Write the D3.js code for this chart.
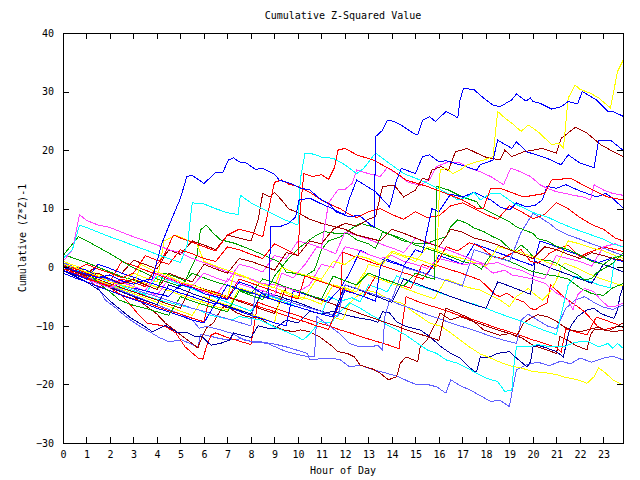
<!DOCTYPE html>
<html><head><meta charset="utf-8">
<script src="https://cdn.jsdelivr.net/npm/d3@7"></script>
<style>
body{margin:0;background:#fff}
svg text{font-family:"DejaVu Sans Mono",monospace;font-size:10px;fill:#000}
</style>
</head><body>
<svg id="chart" width="640" height="480"></svg>
<script>
const chartTitle = "Cumulative Z-Squared Value";
const xTitle = "Hour of Day";
const yTitle = "Cumulative (Z*Z)-1";
const xTickValues = d3.range(0, 24);
const yTickValues = [-30, -20, -10, 0, 10, 20, 30, 40];
const xDomain = [0, 23.8333];
const yDomain = [-30, 40];

// each series: [hour, cumulative value] pairs
const s01 = [[0,0],[0.5,-0.6],[1,-1.2],[1.5,-1.8],[2,-1.3],[2.5,-2.3],[3,-2.9],[3.5,-2.2],[3.8,-2],[4.2,4],[4.6,8],[5,11.8],[5.27,15.5],[5.5,15.7],[6,14.3],[6.5,16.2],[6.8,16.2],[7.04,18.3],[7.25,18.7],[7.5,18],[7.8,17.8],[8.2,16.7],[8.5,16.9],[9,15.9],[9.2,14.9],[9.7,14.3],[10.1,13.5],[10.5,13.2],[10.9,11.8],[11.4,10.6],[11.6,9.5],[11.8,9.2],[12.2,8.6],[12.6,8.9],[13.1,7.2],[13.25,6.9],[13.3,22.3],[13.6,23.4],[13.8,25.1],[14.1,24.9],[14.5,24],[14.9,22.9],[15.1,22.6],[15.3,25.1],[15.6,25.7],[15.85,24.9],[16.3,26.6],[16.6,26],[16.8,25.5],[16.9,28.6],[17.05,30.6],[17.5,30.3],[17.9,28.9],[18.3,27.7],[18.6,27.4],[19.1,28.6],[19.3,29.6],[19.7,28.4],[19.9,28.9],[20.0,28.3],[20.3,28],[20.8,27],[21.2,27.4],[21.5,28.3],[21.9,27.9],[22.1,30],[22.7,28.6],[23.2,26.6],[23.4,26.6],[23.83,25.8]];
const s02 = [[0,0.5],[0.5,0],[1,-0.8],[1.5,-1.5],[2,-2.5],[2.5,-3],[3,-3.5],[3.3,0.5],[3.8,-0.5],[4.5,-1.5],[5,-2.5],[5.5,-3],[6,-3.8],[6.5,-4.5],[7,-5],[7.3,-1],[7.8,-1.8],[8.5,-3],[9,-3.5],[9.3,0],[9.8,-0.8],[10.5,-1.5],[11,-2],[11.5,1],[12,0.5],[12.5,2],[13,1.5],[13.5,0.5],[14,2.8],[14.5,2],[15,1.5],[15.5,0.8],[15.9,0.2],[16.05,16.6],[16.3,16.9],[16.6,16],[16.9,16.6],[17.2,17.5],[17.6,18],[17.9,18.3],[18.3,18.9],[18.5,26.6],[18.8,25.5],[19.1,24.6],[19.5,23.2],[19.8,24.3],[20.2,23.2],[20.6,21.7],[20.8,20.9],[21.1,21.2],[21.3,20.4],[21.5,28.9],[21.8,31.1],[22,30.4],[22.45,29.7],[22.8,28.9],[23.3,27.2],[23.6,33.4],[23.83,35.3]];
const s03 = [[0,0.5],[0.5,0],[1,-0.5],[1.5,-1.5],[2,-2],[2.5,-3],[3,-3.5],[3.5,-4],[4,-4.5],[4.5,-5],[5,-3],[5.5,-3.5],[6,-4.5],[6.5,-5],[7,-5.5],[7.5,-2.5],[8,-3.2],[8.5,-4.5],[8.75,-5.2],[8.85,7],[9.2,6.9],[9.6,7.5],[9.9,8.6],[10.05,11.5],[10.5,11.8],[10.9,11],[11.3,10.3],[11.7,9.5],[12,9],[12.2,11.8],[12.5,14.9],[13.3,12.9],[13.9,10.3],[14.2,14.9],[14.4,16.9],[15,16],[15.3,18.9],[15.6,19.2],[16,18],[16.3,18.2],[16.9,17.5],[17.6,16.6],[17.76,17.5],[18.3,18.3],[18.5,21.7],[19.1,20.3],[19.3,21.4],[19.75,19.7],[20.6,18.6],[21.2,17.5],[21.5,19.2],[22,17.8],[22.6,17],[22.8,21.7],[23.3,21.7],[23.83,20]];
const s04 = [[0,0],[0.5,-0.8],[1,-1.5],[1.5,-1],[2,-2],[2.5,-2.8],[3,-2],[3.5,-3],[4,-3.8],[4.5,-1],[5,-1.8],[5.5,-2.5],[6,0.5],[6.5,-0.3],[7,-1],[7.5,1.5],[8,1],[8.5,0.3],[9,-0.5],[9.5,2.5],[10,2],[10.5,4.5],[11,4],[11.5,6.5],[12,7.5],[12.5,7],[13,8.2],[13.3,8.6],[13.6,13.8],[14.1,14],[14.5,12],[15,13.2],[15.3,15.2],[15.55,14.9],[15.7,16.6],[16.1,17.2],[16.4,16.5],[16.7,19.7],[17.2,20.3],[17.6,19.5],[18,18.8],[18.6,18.3],[18.8,20],[19.1,18.9],[19.6,19.7],[20.4,20.3],[21,19.5],[21.2,22],[21.8,23.9],[22.3,22.9],[22.9,20.9],[23.3,20],[23.83,18.9]];
const s05 = [[0,0],[0.5,-0.5],[1,0.5],[1.5,-0.3],[2,-1],[2.5,-1.8],[3,-1],[3.5,2],[4,1.2],[4.5,0.5],[5,3],[5.5,2.3],[6,1.5],[6.5,1],[7,3.5],[7.5,3],[8,2.2],[8.5,1.5],[9,4],[9.5,3],[10,2],[10.1,10],[10.25,16],[10.6,15.5],[11,15.8],[11.3,15],[11.55,17],[11.7,20],[12,20.3],[12.5,19.2],[13.2,18.3],[14,16.6],[14.6,14.9],[15.5,13.8],[16.3,12.6],[17,11.5],[17.6,10.1],[17.9,10.1],[18.2,13.5],[18.6,13.5],[18.8,13.2],[19.2,12.6],[19.6,12],[20.5,12.6],[20.8,14.9],[21.6,15.2],[22.4,13.5],[23,12.3],[23.2,12],[23.83,11.5]];
const s06 = [[0,1.5],[0.4,3],[0.7,7.2],[1,6.8],[1.5,6],[2,5.2],[2.5,4.5],[3,3.7],[3.5,3],[4,2.2],[4.5,1.5],[5,0.8],[5.3,4],[5.5,11],[6,10.8],[6.5,10],[7,9.3],[7.45,9],[7.55,12.3],[8,11],[8.5,10],[9,9],[9.5,8],[10,7.2],[10.1,15],[10.3,19.5],[10.7,19.3],[11,18.8],[11.5,18.6],[12,17.5],[12.5,16],[12.8,16.9],[13.3,19.5],[13.8,18],[14.5,16],[15.2,14.9],[15.8,13.8],[16.3,12.8],[16.8,11.5],[17.2,12],[17.5,12.8],[17.76,11.5],[18.2,12.6],[18.6,12.6],[19.2,10.9],[20.1,9.2],[20.6,8.6],[21.2,7.5],[21.8,6.5],[22.5,5.5],[23,4.8],[23.4,4],[23.83,3.5]];
const s07 = [[0,1],[0.4,3],[0.7,9],[1,8],[1.5,7.2],[2,6.8],[2.5,6],[3,5.2],[3.5,4.5],[4,3.8],[4.5,3],[5,2.5],[5.5,1.5],[6,0.8],[6.5,0],[7,-0.8],[7.5,-1.5],[8,-2],[8.5,-2.8],[9,-3],[9.5,-3.5],[10,-4.2],[10.5,-3],[11,0.5],[11.5,0],[12,3.5],[12.5,3],[13,2.2],[13.5,1.5],[14,2],[14.5,1],[15,0.5],[15.5,-0.2],[16,1.5],[16.5,1],[17,0.5],[17.76,0.7],[18.3,-1],[18.8,-0.5],[19.1,-1.3],[19.5,-1.6],[19.9,-1.9],[20.5,-2.7],[21,-4.4],[21.5,-5.6],[21.7,-7.3],[21.9,-4.7],[22.2,-3.6],[22.6,-4.2],[22.9,-5.6],[23.2,-6.7],[23.5,-6.7],[23.83,-6.1]];
const s08 = [[0,0],[0.5,-0.8],[1,-1.5],[1.5,-1],[2,-2],[2.5,-2.6],[3,-3.3],[3.5,-4],[4,-1],[4.5,-1.8],[5,-2.5],[5.5,-3.2],[6,-1],[6.5,-1.8],[7,-2.5],[7.5,0.5],[8,0],[8.5,-0.8],[9,2],[9.5,1.5],[10,4.5],[10.5,4],[11,3.3],[11.3,11],[11.7,13.2],[12,13.3],[12.3,14.3],[12.5,16.6],[13,16],[13.5,15.5],[13.8,17],[14.2,16],[14.7,14.5],[15.2,14],[15.6,15],[15.9,17.2],[16.4,18],[16.9,17.8],[17.3,16.9],[17.76,16.3],[18.2,15.5],[18.75,14.1],[19.05,16.9],[19.3,16.6],[19.9,15.5],[20.3,14.1],[20.6,13.5],[21,12.9],[21.4,12.6],[21.7,12.3],[22.15,12],[22.45,11.5],[22.6,14.1],[23,13.2],[23.4,12.6],[23.83,12.3]];
const s09 = [[0,0.5],[0.5,-0.5],[1,-1.8],[1.5,-3.5],[1.8,-5.6],[2.2,-6.8],[2.7,-8.5],[3.2,-9.9],[3.6,-10.8],[4.1,-12],[4.5,-12.7],[5.05,-12.4],[5.4,-13],[5.75,-13.6],[5.85,-11.4],[6.3,-11.8],[6.7,-12.2],[7.1,-12.4],[7.6,-12.2],[8.1,-12.8],[8.4,-12.7],[9,-13.1],[9.5,-13.6],[10,-14.2],[10.4,-14.7],[10.5,-15.8],[11,-15.6],[11.4,-15.5],[11.8,-15.8],[12.2,-17],[12.65,-16.7],[13.2,-17.5],[13.7,-18],[14.3,-18.7],[14.7,-19.5],[15.1,-20.1],[15.5,-20],[15.9,-20.4],[16.3,-21.5],[16.5,-19.2],[16.9,-20.2],[17.3,-20.9],[17.8,-22],[18.2,-22.9],[18.6,-22.7],[19,-23.8],[19.15,-20.4],[19.3,-17.5],[19.7,-16.7],[20.2,-16.2],[20.7,-16.8],[21.2,-16],[21.6,-16.5],[22,-15.5],[22.5,-16.2],[23,-15.5],[23.4,-15.2],[23.83,-15.8]];
const s10 = [[0,-0.2],[0.5,-1],[1,-1.8],[1.5,-2.6],[2,-3.4],[2.5,-4.2],[3,-5],[3.5,-6.5],[4,-8],[4.35,-9.5],[4.9,-11.2],[5.3,-12.4],[5.75,-13.8],[5.8,-13],[6.1,-10.4],[6.4,-9.5],[6.7,-7.3],[6.85,-6.7],[7.1,-7],[7.4,-7.8],[7.8,-8.4],[8.4,-8.7],[8.7,-9.6],[9,-10.1],[9.4,-10.7],[9.8,-11],[10.1,-10.7],[10.5,-11],[10.9,-11.8],[11.4,-13.3],[11.7,-14.4],[12.1,-14.7],[12.4,-15.3],[12.65,-16.7],[13.2,-17.4],[13.5,-18.1],[13.85,-19.2],[14.2,-18.7],[14.35,-16.4],[14.6,-15.3],[15.1,-16.1],[15.2,-13.6],[15.5,-12.4],[15.7,-10.7],[15.9,-9.3],[16.05,-7.8],[16.5,-9],[16.9,-8.4],[17.5,-9.3],[17.9,-10.7],[18.3,-11.2],[18.6,-11.6],[19,-11.3],[19.5,-12],[20,-13.3],[20.5,-14],[21,-14.7],[21.15,-11.8],[21.5,-12.5],[21.8,-13.3],[22.3,-14.1],[22.45,-11.5],[22.6,-10.7],[23,-10.7],[23.5,-11],[23.83,-10.7]];
const s11 = [[0,-0.3],[0.5,-1],[1,-1.8],[1.5,-2.6],[2,-3.5],[2.5,-4.8],[2.8,-6.1],[3.2,-8],[3.6,-9.6],[4,-9.8],[4.35,-10.1],[4.8,-11.2],[5.2,-13.6],[5.75,-15.5],[5.95,-15.7],[6.1,-13.6],[6.3,-11.6],[6.5,-11.2],[7,-12],[7.5,-12.6],[8,-13.2],[8.3,-6],[8.8,-6.7],[9.3,-7.4],[9.8,-8],[10.3,-8.7],[10.8,-9.4],[11.3,-10],[11.8,-10.7],[12.3,-11.3],[12.8,-12],[13.3,-12.6],[13.8,-13.2],[14.3,-13.9],[14.6,-5],[15,-5.7],[15.5,-6.4],[16,-7],[16.5,-7.7],[17,-8.4],[17.5,-9],[18,-9.7],[18.5,-10.4],[19,-11],[19.5,-11.7],[20,-12.4],[20.5,-13],[21,-13.7],[21.2,-14.5],[21.4,-10.5],[21.8,-11],[22.3,-11.5],[22.7,-8.5],[23.2,-9.2],[23.6,-9.8],[23.83,-10.3]];
const s12 = [[0,-0.5],[0.5,-1.5],[1,-2.5],[1.5,-3.8],[2.1,-6.1],[2.5,-7.4],[2.9,-8.7],[3.4,-9.9],[3.8,-11],[4.35,-9.9],[4.9,-11.2],[5.3,-11.2],[5.6,-11.8],[5.9,-11.8],[6.3,-13.3],[6.7,-13],[7.1,-12.4],[7.25,-11.2],[7.6,-11.6],[8,-12],[8.3,-10],[8.7,-10.4],[9,-10.5],[9.5,-9],[10,-9.5],[10.5,-7.5],[11,-8],[11.5,-7.5],[11.8,-7.9],[12.3,-8.4],[12.65,-8.7],[13.1,-9],[13.4,-9.4],[13.6,-7.6],[13.9,-7.8],[14.2,-9.3],[14.6,-10.1],[15.2,-10.7],[15.6,-11.8],[16.1,-13.6],[16.5,-14.7],[16.9,-15.5],[17.2,-16.7],[17.5,-17.8],[17.6,-17.8],[17.76,-15.3],[18.05,-15.5],[18.5,-14.7],[19,-14.4],[19.3,-15.5],[19.75,-17],[19.9,-16.1],[20.0,-13.6],[20.2,-13.3],[20.6,-13.8],[21,-14.4],[21.3,-15.3],[21.45,-12.4],[21.6,-10.1],[21.9,-8.4],[22.3,-7.3],[22.6,-7],[22.9,-7.9],[23.2,-8.4],[23.45,-8.7],[23.6,-7.3],[23.7,-5],[23.83,-3.3]];
const s13 = [[0,0],[0.5,-0.8],[1,-1.6],[1.5,-2.3],[2,-3],[2.5,-3.6],[3,-2],[3.5,-2.7],[4,-3.4],[4.5,-4],[5,-4.7],[5.5,-5.4],[6,-6],[6.5,-6.7],[7,-7.3],[7.5,-3.5],[8,-4.2],[8.5,-4.8],[9,-5.5],[9.5,-6.2],[10,-6.8],[10.5,-7.4],[11,-8],[11.5,-8.5],[11.9,-9],[12.2,-6.1],[12.5,-5],[12.9,-3.9],[13.4,-4.4],[13.9,-5.6],[14.4,-6.1],[14.8,-7.3],[15.2,-8.4],[15.6,-9.5],[16.1,-10.1],[16.5,-11.2],[16.9,-12.4],[17.3,-13.6],[17.76,-14.8],[18.2,-15.5],[18.6,-16.2],[19,-16.8],[19.5,-17.2],[20,-17.8],[20.5,-18],[21,-18.3],[21.3,-18.7],[21.9,-19.2],[22.3,-19.8],[22.6,-18.7],[22.8,-17.2],[23.1,-18.1],[23.4,-19.2],[23.83,-20.1]];
const s14 = [[0,0],[0.5,-0.7],[1,-1.5],[1.5,-2.2],[2,-3],[2.5,-3.6],[3,-4.2],[3.5,-4.8],[4,-5.5],[4.5,-6],[5,-6.5],[5.5,-7],[5.8,-7.3],[6.2,-8.1],[7.2,-9],[7.5,-8.4],[8.4,-9],[9.1,-10.4],[9.5,-11],[9.95,-11.8],[10.2,-12.4],[10.4,-11.8],[10.65,-10.7],[10.9,-9.3],[11.4,-9.5],[11.8,-7.6],[12.2,-6.1],[12.65,-7],[13.1,-8.1],[13.5,-9],[13.8,-9.9],[14.2,-10.7],[14.6,-11.6],[15.1,-13],[15.5,-14.1],[15.9,-14.7],[16.3,-15.8],[16.8,-16.4],[17.2,-17.2],[17.6,-18.1],[18.05,-19],[18.5,-19.5],[18.8,-21.2],[19.1,-21],[19.2,-16.4],[19.3,-13.6],[19.8,-13.6],[20.2,-13.2],[20.8,-13.6],[21.3,-13.6],[21.8,-12.8],[22.3,-12.6],[22.8,-13.6],[23.2,-13],[23.4,-13.8],[23.6,-13],[23.83,-13.8]];
const s15 = [[0,2],[0.65,5.2],[1.2,4.1],[2.1,2.1],[2.9,0.1],[3.5,-1],[4,-2],[4.5,-2.6],[5,-3.3],[5.5,-1],[6,-1.8],[6.5,-2.5],[7,-3.1],[7.5,-3.8],[8,-4.5],[8.5,-2],[9,-2.6],[9.5,-3.4],[10,-4],[10.5,-4.8],[11,-5.4],[11.5,-1.5],[12,-2.3],[12.5,-3],[13,-1],[13.5,-1.8],[14,-2.5],[14.5,-3.2],[15,-1],[15.5,-1.7],[15.8,-2],[15.9,13.8],[16.4,13.2],[17,12],[17.6,11.2],[17.76,10.3],[18.3,9.2],[18.6,8.6],[19,7.8],[19.3,6.9],[19.6,6.4],[20,5.8],[20.2,4.9],[20.6,4.5],[21,3.6],[21.5,3],[22,2.1],[22.5,1],[23,0.5],[23.4,1.6],[23.83,2]];
const s16 = [[0,2.2],[0.5,1.5],[1,0.8],[1.5,0],[2,-0.8],[2.5,-1.6],[3,-2.2],[3.5,-3],[4,-3.8],[4.3,-1],[4.7,-1.5],[5.2,-2.3],[5.7,2],[5.85,6.4],[6.1,7.2],[6.4,5.8],[6.7,4.7],[7.3,4.1],[8,3],[8.7,1.8],[9.2,0.9],[9.5,-0.8],[9.8,-1],[10.3,-1.5],[10.7,-0.5],[11,3],[11.3,4.5],[11.8,5.2],[12.2,6.4],[12.65,7.5],[13.2,6.9],[13.8,5.8],[14.35,4.7],[14.6,4.4],[15,4.1],[15.5,4.1],[15.9,4.7],[16.3,5.2],[16.5,6.9],[16.8,8.1],[17.2,7.5],[17.5,6.7],[17.9,6.1],[18.3,5.2],[18.6,4.7],[19,3.2],[19.2,2.7],[19.5,3.8],[19.75,3],[20,1.8],[20.4,1.2],[20.7,1.2],[21,0.7],[21.5,-0.5],[21.9,-1.3],[22.2,-2.2],[22.5,-1.9],[22.7,-1],[23.15,0.1],[23.4,0.7],[23.83,2.4]];
const s17 = [[0,1],[0.5,0.3],[1,-0.5],[1.5,-2.7],[2,-4.2],[2.4,-5.6],[2.6,-5.9],[3,-6.5],[3.5,-7],[4,-7.6],[4.5,-8.2],[5,-5],[5.5,-5.8],[6,-6.4],[6.5,-7],[7,-7.6],[7.5,-4],[8,-4.8],[8.5,-5.5],[9,-1.5],[9.2,-0.5],[9.6,1.5],[10.1,3.5],[10.5,4.7],[10.8,5.5],[11.1,6.1],[11.6,5.8],[12.1,5.8],[12.5,4.7],[13,4],[13.3,3.2],[13.6,6],[14,5.5],[14.5,4.8],[15,3.8],[15.5,3.2],[16,2.5],[16.5,1.8],[17,1],[17.5,0.5],[17.8,-0.3],[18.2,2],[18.7,1.5],[19.3,0.5],[19.8,-0.5],[20.5,-1.2],[21,-1.5],[21.5,-2],[22,-3.5],[22.5,-4.5],[23,-4.8],[23.4,-3.5],[23.83,-2.8]];
const s18 = [[0,-0.5],[0.5,-1.2],[1,-2],[1.5,-2.5],[2,-3.2],[2.5,-2],[3,-2.6],[3.5,-3.3],[4,0.5],[4.3,2],[4.7,5.5],[5,5],[5.5,4.3],[6,3.5],[6.5,2.8],[7,5.5],[7.5,6.5],[8,6],[8.5,5.2],[9,14.5],[9.3,14.9],[9.6,14.2],[10,13.8],[10.5,12.8],[11,11.5],[11.5,10.5],[11.8,10],[12.2,9],[12.5,8.5],[13,9.5],[13.5,10],[14,9],[14.5,8.2],[15,9.5],[15.5,8.5],[16,8.8],[16.5,10.5],[17,11],[17.5,10],[18,9],[18.5,8.2],[19,10.5],[19.5,9.5],[20,8.3],[20.5,9],[21,11],[21.5,10],[22,8.5],[22.5,7.3],[23,6.5],[23.5,5],[23.83,4.5]];
const s19 = [[0,0.3],[0.5,-0.5],[1,-1.2],[1.5,0.5],[2,-0.2],[2.5,-1],[3,1.2],[3.5,0.5],[4,-0.3],[4.5,3],[5,2.2],[5.5,4.5],[6,3.8],[6.5,3],[7,5.5],[7.5,5],[8,4.5],[8.3,8],[8.5,12.6],[8.8,12],[9,12.8],[9.3,11.5],[9.6,10],[10,9.3],[10.5,8.2],[11,7.5],[11.5,7],[12,6.5],[12.5,5.5],[13,5],[13.5,4.5],[14,6.5],[14.5,5.8],[15,5],[15.5,4.2],[16,3.5],[16.5,6.5],[17,6],[17.5,5],[18,4.5],[18.5,3.8],[19,3],[19.5,2.2],[20,1.5],[20.5,3.5],[21,3],[21.5,2.2],[22,1.5],[22.5,2.5],[23,2],[23.5,1.4],[23.83,1.2]];
const s20 = [[0,-0.5],[0.5,-1.2],[1,-2],[1.5,-2.8],[2,-3.5],[2.5,-2.5],[3,-3.3],[3.5,-4],[4,-4.8],[4.5,-2],[5,-2.8],[5.5,-3.5],[6,-4.2],[6.5,-5],[7,-2],[7.5,-2.8],[8,-3.5],[8.5,-4],[9,-4.8],[9.3,-1],[9.8,-1.8],[10.3,0.5],[10.8,3.5],[11.2,3],[11.6,2.3],[12,6],[12.5,5.5],[13,4.8],[13.5,4],[14,3.3],[14.5,2.5],[15,5],[15.5,4.3],[16,3.5],[16.5,2.8],[17,2],[17.5,1.2],[18,0.5],[18.5,0.8],[19,0],[19.5,-0.5],[20,-1.5],[20.5,-2],[21,2],[21.5,1.5],[22,1],[22.5,0.2],[23,3.5],[23.5,4],[23.83,3.5]];
const s21 = [[0,1],[0.5,0.3],[1,-0.5],[1.5,-1.2],[2,-2],[2.5,-2.8],[3,-1],[3.5,-1.8],[4,-2.5],[4.3,4.5],[4.8,5.5],[5.2,4.8],[5.7,4],[6,1],[6.5,0.2],[7,-0.5],[7.5,-1.2],[8,-2],[8.5,-2.8],[9,-3.5],[9.5,-4.2],[10,-5],[10.5,-5.5],[11,-6.3],[11.5,-3],[12,-3.5],[12.5,-4.2],[13,0.5],[13.5,0],[14,2.5],[14.5,1.8],[15,1],[15.5,3.5],[16,2.8],[16.5,2],[17,1.5],[17.5,0.8],[18,0.2],[18.5,3.5],[19,3],[19.5,2.5],[20,1.8],[20.5,1],[21,0.3],[21.5,4.5],[22,4],[22.5,3.3],[23,2.8],[23.5,2],[23.83,1.5]];
const s22 = [[0,0],[0.5,-0.8],[1,-1.5],[1.5,-2.2],[2,-3],[2.5,-3.8],[3,-4.5],[3.5,-5.2],[4,-6],[4.5,-6.7],[5,-7.5],[5.5,-8.2],[6,-5],[6.5,-5.8],[7,-6.5],[7.5,-7.2],[8,-8],[8.5,-8.7],[9,-9.5],[9.3,-4],[9.7,-4.8],[10.2,-5.5],[10.8,-2],[11.3,-2.8],[11.8,-3.5],[12.3,-4.2],[12.8,-1],[13.3,-1.8],[13.8,-2.5],[14.3,-3.2],[14.8,-4],[15.3,-4.7],[15.8,-5.4],[16.3,-2],[16.8,-2.8],[17.3,-3.5],[17.76,-3.9],[18.2,-4.8],[18.6,-5.6],[19,-6.7],[19.3,-5],[19.6,-4.2],[19.8,-3.6],[20.1,-4.7],[20.4,-5.6],[20.7,-4.4],[21,-2.2],[21.2,0.1],[21.35,0.7],[21.8,0],[22.3,-1],[22.8,-1.8],[23.3,-2.5],[23.83,-3.2]];
const s23 = [[0,0.5],[0.5,-0.3],[1,-1],[1.5,-1.8],[2,-2.5],[2.5,-3.2],[3,-4],[3.5,-4.6],[4,-1.5],[4.5,-2.2],[5,-3],[5.5,-3.7],[6,-4.5],[6.5,-5.2],[7,-6],[7.5,-6.7],[8,-7.5],[8.5,-4.5],[9,-5.2],[9.5,-6],[10,-6.8],[10.5,-7.4],[11,-8],[11.3,-5],[11.8,-5.8],[12.3,-5.2],[12.65,-5.9],[13,-3],[13.4,-3.5],[13.8,-4.2],[14.2,-1.5],[14.6,-2.2],[15,-3],[15.5,-3.6],[16,-4.3],[16.5,-5],[17,-5.7],[17.5,-6.3],[18,-7],[18.5,-7.8],[19,-8.5],[19.5,-9.2],[20,-10],[20.5,-10.8],[21,-11.5],[21.5,-3],[21.8,-1.5],[22.3,-2.2],[22.8,-3],[23.3,-3.5],[23.5,2],[23.83,1.5]];
const s24 = [[0,-1],[0.5,-1.8],[1,-2.5],[1.5,-3.3],[2,-4],[2.5,-4.8],[3,-5.5],[3.5,-6.2],[4,-7],[4.5,-7.6],[5,-8.3],[5.5,-9],[6,-9.5],[6.5,-6],[7,-6.8],[7.5,-7.5],[8,-8.2],[8.5,-8.8],[9,-9.5],[9.5,-10],[9.8,-4],[10.3,-4.6],[10.8,-5.2],[11.3,-5.8],[11.8,-3.6],[12.2,-1],[12.65,2.9],[13,2.2],[13.5,1.5],[14,0.8],[14.5,0.2],[15,-0.5],[15.5,-1.2],[16,2],[16.5,1.3],[17,0.5],[17.5,4],[18,3.3],[18.5,2.5],[19,1.8],[19.5,1],[20,0.3],[20.3,4.5],[20.8,3.8],[21.3,3],[21.8,2.3],[22.3,1.5],[22.8,0.8],[23.3,1.5],[23.83,1]];
const s25 = [[0,-0.5],[0.5,-1.3],[1,-2],[1.5,-2.8],[2,-3.5],[2.5,-4.2],[3,-5],[3.5,-5.7],[4,-6.4],[4.5,-3],[5,-3.7],[5.5,-4.5],[6,-5.2],[6.5,-6],[7,-6.6],[7.5,-7.3],[8,-8],[8.5,-4],[9,-4.7],[9.5,-5.4],[10,-6],[10.5,-6.8],[11,-7.5],[11.5,-8.2],[12,-3],[12.5,-3.7],[13,-4.5],[13.5,-5.2],[14,-6],[14.5,-2],[15,-2.7],[15.5,-3.5],[16,-4.2],[16.5,-5],[17,-5.7],[17.5,-6.4],[18,-7],[18.5,-2.5],[19,-3.2],[19.5,-4],[19.9,-4.6],[20.1,1],[20.5,0.3],[21,-0.5],[21.5,-1.2],[22,-2],[22.5,-2.7],[23,0.5],[23.5,-0.2],[23.83,-0.8]];
const s26 = [[0,0],[0.5,-0.8],[1,-1.6],[1.5,-2.4],[2,-3.2],[2.5,-4],[3,-4.8],[3.5,-5.6],[4,-6.4],[4.5,-7.2],[5,-8],[5.5,-9],[5.8,-10.4],[6.1,-10.1],[6.7,-10.7],[7.2,-11.3],[7.7,-12.4],[8.1,-12.7],[8.7,-13],[9.5,-14.4],[10.1,-15],[10.5,-15.3],[10.7,-15.3],[10.8,-8.4],[11.2,-9.6],[11.8,-11.4],[12.2,-13],[12.65,-13.6],[13.1,-13.6],[13.4,-13.3],[13.6,-14.1],[13.7,-8.4],[13.9,-5.6],[14.3,-6.3],[14.8,-7],[15.3,-7.8],[15.8,-8.5],[16.3,-9.2],[16.8,-9.9],[17.3,-10.5],[17.8,-11.2],[18.3,-11.9],[18.8,-12.5],[19.3,-13],[19.5,-9],[19.8,-8],[20.2,-9],[20.6,-10],[21,-10.5],[21.4,-7],[21.8,-5.6],[22.2,-5],[22.6,-6],[23,-6.8],[23.4,-7.2],[23.83,-6.5]];
const s27 = [[0,0.8],[0.5,0],[1,-0.8],[1.5,-1.5],[2,-2.2],[2.5,-3],[3,-3.7],[3.5,-4.4],[4,-5],[4.5,-5.7],[5,-6.3],[5.5,-7],[6,-7.5],[6.5,-8.2],[7,-8.8],[7.5,-9.4],[8,-10],[8.2,-4],[8.7,-4.6],[9.2,-5.3],[9.7,-6],[10.2,-6.6],[10.7,-7.2],[11.2,-7.8],[11.7,-8.4],[12,-3],[12.5,-3.6],[13,-4.3],[13.5,-5],[14,-5.5],[14.5,0],[15,-0.6],[15.5,-1.2],[16,-1.9],[16.5,-2.5],[17,-3.2],[17.5,3],[18,2.3],[18.5,1.6],[19,1],[19.5,6],[20,9.2],[20.3,8.5],[20.7,7.5],[21,6.5],[21.5,5.5],[22,4.8],[22.5,4],[23,3.3],[23.5,2.5],[23.83,2]];
const s28 = [[0,-1],[0.5,-1.8],[1,-2.5],[1.5,-3.2],[2,-4],[2.5,-4.7],[3,-5.4],[3.5,-6],[4,-6.7],[4.5,-7.4],[5,-8],[5.5,-8.7],[6,-9.3],[6.3,-4],[6.8,-4.7],[7.3,-5.4],[7.8,-6],[8.3,-6.7],[8.8,-7.3],[9.3,-8],[9.8,-8.7],[10.3,-9.3],[10.8,-10],[11.3,-10.6],[11.8,-5.9],[11.9,2.6],[12.3,2],[12.8,1.3],[13.3,0.6],[13.8,0],[14.3,-0.7],[14.8,-1.3],[15.3,-2],[15.8,0.5],[16.3,-0.2],[16.8,-0.8],[17.3,-1.5],[17.76,-2.2],[18.05,-3.3],[18.4,-4.7],[18.6,-5],[18.9,-4.4],[19.2,-5.3],[19.6,-5.9],[19.9,-7],[20.1,-7.3],[20.3,-6.7],[20.6,-6.1],[20.75,-3],[21,-3.9],[21.3,-5],[21.6,-5.9],[21.9,-6.7],[22.2,-7.6],[22.45,-8.7],[22.75,-10.1],[23,-10.7],[23.3,-10.4],[23.6,-10.1],[23.83,-10.1]];
const s29 = [[0,0.5],[0.5,-0.2],[1,-1],[1.5,-1.7],[2,-2.4],[2.5,1],[3,0.3],[3.5,-0.5],[4,-1.2],[4.5,-2],[5,-2.7],[5.5,-3.4],[6,-4],[6.5,-4.7],[7,-5.3],[7.5,-2],[8,-2.7],[8.5,-3.4],[9,-4.1],[9.5,-4.8],[10,-5.4],[10.3,-1.5],[10.8,-2.2],[11.3,-2.9],[11.8,-3.6],[12.3,-4.3],[12.8,-5],[13.3,-1.5],[13.8,-2.2],[14.3,-2.9],[14.8,-3.6],[15.3,0.5],[15.8,-0.2],[16.3,3.5],[16.8,2.8],[17.3,4.2],[17.76,3.5],[18.3,1.8],[18.7,1.5],[19.1,2.4],[19.5,3],[19.9,1],[20.2,0.7],[20.5,1.5],[20.7,2.4],[21,3],[21.3,3.5],[21.5,3.8],[21.7,3],[22,1.8],[22.3,2.4],[22.7,3],[23,3.5],[23.3,3.2],[23.83,2.7]];
const s30 = [[0,0],[0.5,-0.7],[1,-1.4],[1.5,-2.1],[2,-2.8],[2.5,-3.5],[3,-4.2],[3.5,-4.9],[4,-5.6],[4.5,-6.3],[5,-7],[5.5,-3],[6,-3.7],[6.5,-4.4],[7,-5.1],[7.5,-5.8],[8,-6.5],[8.5,-7.2],[9,-7.9],[9.5,-3.5],[10,-4.2],[10.5,-4.9],[11,-5.6],[11.5,-6.3],[12,-7],[12.5,-7.7],[13,-8.4],[13.5,-9.1],[14,-9.8],[14.5,-10.5],[15,-11.2],[15.5,-11.8],[16,-12.5],[16.3,-7],[16.8,-7.8],[17.2,-8.5],[17.5,-9.3],[18,-10],[18.5,-10.7],[19,-11.3],[19.3,-11.8],[19.6,-9.5],[19.9,-8.7],[20.2,-8.1],[20.6,-8.4],[21,-9.2],[21.3,-10.1],[21.6,-10.7],[22,-11],[22.4,-10.6],[22.8,-10.2],[23.2,-10.9],[23.5,-10.3],[23.83,-9.5]];
const s31 = [[0,-0.5],[0.5,-1.2],[1,-2],[1.5,0.5],[2,-0.2],[2.5,-1],[3,-1.7],[3.5,-2.4],[4,-3],[4.5,-3.7],[5,-4.4],[5.5,-5],[6,-5.7],[6.5,-6.3],[7,-3],[7.5,-3.7],[8,-4.3],[8.5,-5],[9,-5.6],[9.5,-6.2],[10,-6.8],[10.5,-7.4],[11,-8],[11.5,-8.5],[12,-4],[12.5,-4.6],[13,-5.3],[13.3,-5.8],[13.5,0],[13.7,1.5],[14,1],[14.5,0.3],[15,3],[15.3,2.5],[15.7,10],[16,9.5],[16.5,12.5],[17,12],[17.5,12.8],[17.76,12.3],[18.2,11.5],[18.6,10.3],[19,9.8],[19.3,11],[19.7,10.3],[20.1,10.6],[20.4,11.5],[20.6,13.8],[21,13.5],[21.4,14.1],[21.9,13.2],[22.3,12.6],[22.7,12],[23.1,12.6],[23.4,11.8],[23.83,10.1]];

const seriesList = [s09,s10,s11,s12,s13,s14,s26,s28,s30,s22,s23,s25,s24,s17,s16,s29,s27,s21,s20,s19,s18,s15,s31,s07,s08,s06,s05,s04,s03,s02,s01];
const seriesColorKeys = ["slate","darkred","red","navy","yellow","cyan","slate","red","darkred","yellow","cyan","navy","blue","green","green","red","slate","yellow","magenta","darkred","red","green","blue","magenta","magenta","cyan","red","darkred","blue","yellow","blue"];

const palette = {red:"#ff0000",green:"#00a000",blue:"#0000ff",magenta:"#ff40ff",cyan:"#00ffff",darkred:"#a00000",yellow:"#ffff00",slate:"#6060ff",navy:"#0000a0"};

const plot = {left:63, right:623, top:33, bottom:443};
const svg = d3.select("#chart");
const x = d3.scaleLinear().domain(xDomain).range([plot.left, plot.right]);
const y = d3.scaleLinear().domain(yDomain).range([plot.bottom, plot.top]);

svg.append("defs").append("clipPath").attr("id","clip")
  .append("rect").attr("x",plot.left).attr("y",plot.top)
  .attr("width",plot.right-plot.left).attr("height",plot.bottom-plot.top);

const line = d3.line().x(d => x(d[0])).y(d => y(d[1]));
const g = svg.append("g").attr("clip-path","url(#clip)");
seriesList.forEach((s, i) => {
  g.append("path").datum(s)
    .attr("d", line)
    .attr("fill","none")
    .attr("stroke", palette[seriesColorKeys[i]])
    .attr("stroke-width",1)
    .attr("shape-rendering","crispEdges");
});

function styleAxis(sel){
  sel.select(".domain").remove();
  sel.selectAll(".tick line").attr("stroke","#000").attr("shape-rendering","crispEdges");
  sel.selectAll("text").attr("font-family","'DejaVu Sans Mono', monospace").attr("font-size",10).attr("fill","#000");
}
svg.append("g").attr("transform",`translate(0,${plot.bottom})`)
  .call(d3.axisBottom(x).tickValues(xTickValues).tickSize(-6).tickPadding(8).tickFormat(d3.format("d")))
  .call(styleAxis);
svg.append("g").attr("transform",`translate(0,${plot.top})`)
  .call(d3.axisTop(x).tickValues(xTickValues).tickSize(-6).tickFormat(""))
  .call(styleAxis);
svg.append("g").attr("transform",`translate(${plot.left},0)`)
  .call(d3.axisLeft(y).tickValues(yTickValues).tickSize(-6).tickPadding(9).tickFormat(d3.format("d")))
  .call(styleAxis);
svg.append("g").attr("transform",`translate(${plot.right},0)`)
  .call(d3.axisRight(y).tickValues(yTickValues).tickSize(-6).tickFormat(""))
  .call(styleAxis);

svg.append("rect").attr("x",plot.left+0.5).attr("y",plot.top+0.5)
  .attr("width",plot.right-plot.left).attr("height",plot.bottom-plot.top)
  .attr("fill","none").attr("stroke","#000").attr("stroke-width",1);

svg.append("text").attr("x",(plot.left+plot.right)/2).attr("y",19)
  .attr("text-anchor","middle").text(chartTitle);
svg.append("text").attr("x",(plot.left+plot.right)/2).attr("y",474)
  .attr("text-anchor","middle").text(xTitle);
svg.append("text").attr("transform",`translate(26,${(plot.top+plot.bottom)/2}) rotate(-90)`)
  .attr("text-anchor","middle").text(yTitle);
</script>
</body></html>
